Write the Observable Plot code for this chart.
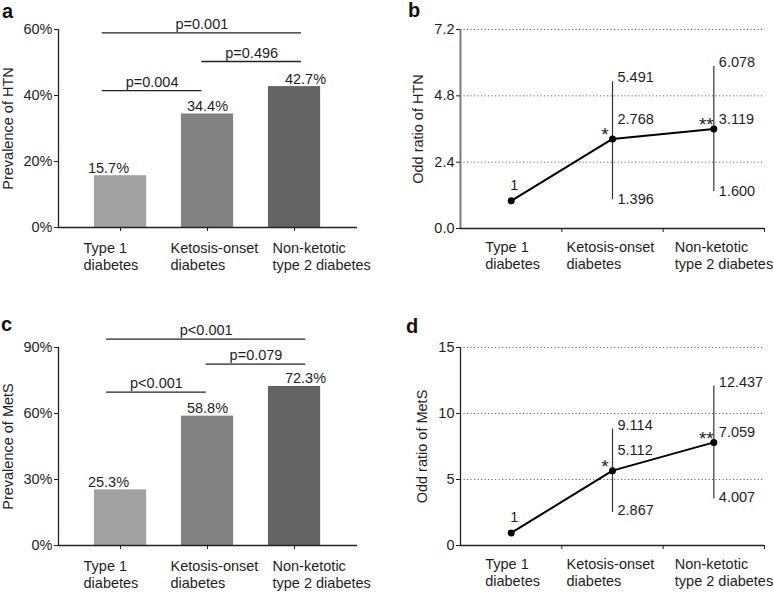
<!DOCTYPE html>
<html><head><meta charset="utf-8">
<script src="https://cdn.jsdelivr.net/npm/d3@7"></script>
<script src="https://cdn.jsdelivr.net/npm/@observablehq/plot@0.6"></script>
<style>
body{margin:0;background:#fff;}
#wrap{position:relative;width:774px;height:592px;font-family:"Liberation Sans",Arial,sans-serif;overflow:hidden;}
.panel{position:absolute;width:387px;height:296px;}
.letter{position:absolute;font-weight:bold;font-size:20px;line-height:20px;color:#111;}
</style></head><body>
<div id="wrap">
  <div class="panel" id="pa" style="left:0;top:0"></div>
  <div class="panel" id="pb" style="left:387px;top:0"></div>
  <div class="panel" id="pc" style="left:0;top:296px"></div>
  <div class="panel" id="pd" style="left:387px;top:296px"></div>
  <div class="letter" style="left:2px;top:1px">a</div>
  <div class="letter" style="left:408px;top:0px">b</div>
  <div class="letter" style="left:1px;top:314px">c</div>
  <div class="letter" style="left:406px;top:316px">d</div>
</div>
<script>
// ---------- data ----------
const categories = ["Type 1\ndiabetes", "Ketosis-onset\ndiabetes", "Non-ketotic\ntype 2 diabetes"];
const barColors = ["#a2a2a2", "#828282", "#646464"];

// a: prevalence of HTN (%)
const htnPrev = [15.7, 34.4, 42.7];
const htnPrevLabels = ["15.7%", "34.4%", "42.7%"];
const htnBracketFrom = [0, 1, 0];
const htnBracketTo = [1, 2, 2];
const htnBracketLevel = [41.5, 50.3, 59];
const htnBracketText = ["p=0.004", "p=0.496", "p=0.001"];

// c: prevalence of MetS (%)
const metsPrev = [25.3, 58.8, 72.3];
const metsPrevLabels = ["25.3%", "58.8%", "72.3%"];
const metsBracketFrom = [0, 1, 0];
const metsBracketTo = [1, 2, 2];
const metsBracketLevel = [69.7, 82.4, 93.8];
const metsBracketText = ["p<0.001", "p=0.079", "p<0.001"];

// b: odds ratio of HTN (as drawn) and printed labels
const htnOR = [1, 3.24, 3.6];
const htnLo = [null, 1.04, 1.34];
const htnHi = [null, 5.31, 5.86];
const htnORText = ["1", "2.768", "3.119"];
const htnLoText = ["", "1.396", "1.600"];
const htnHiText = ["", "5.491", "6.078"];
const htnTicks = [0, 2.4, 4.8, 7.2];

// d: odds ratio of MetS (as drawn) and printed labels
const metsOR = [0.95, 5.67, 7.81];
const metsLo = [null, 2.5, 3.53];
const metsHi = [null, 8.83, 12.08];
const metsORText = ["1", "5.112", "7.059"];
const metsLoText = ["", "2.867", "4.007"];
const metsHiText = ["", "9.114", "12.437"];
const metsTicks = [0, 5, 10, 15];

const sigText = ["", "*", "**"];

// ---------- drawing ----------
const W = 387, H = 296;
const FS = 14.5;
const baseStyle = {fontFamily: '"Liberation Sans", Arial, sans-serif', fontSize: FS + "px", color: "#1e1e1e", background: "transparent", overflow: "visible"};
const idx = [0, 1, 2];

function catLabels(nudges, dy) {
  return idx.map(i => Plot.text([i], {
    x: d => d, frameAnchor: "bottom", text: d => categories[d],
    textAnchor: "start", lineAnchor: "top", lineHeight: 1.15,
    dx: nudges[i], dy, fontSize: FS
  }));
}

function yTitle(label, dx) {
  return Plot.text([label], {frameAnchor: "left", textAnchor: "middle", lineAnchor: "middle", rotate: -90, dx, fontSize: FS});
}

function barPanel({values, valueLabels, from, to, level, ptext, yMax, yStep, yLabel, marginTop, marginBottom, bOff}) {
  const data = idx.map(i => ({i, v: values[i], t: valueLabels[i]}));
  const brackets = ptext.map((t, k) => ({from: from[k], to: to[k], level: level[k], t}));
  const bpos = j => bOff + 1.145 * j;
  const xmin = -0.713, xmax = 2.724;
  const pctNudge = [-12, 0, 11];
  return Plot.plot({
    width: W, height: H, marginLeft: 58, marginRight: 30, marginTop, marginBottom,
    style: baseStyle,
    x: {type: "linear", domain: [xmin, xmax], axis: null},
    y: {domain: [0, yMax], axis: null},
    color: {type: "identity"},
    marks: [
      Plot.rectY(data, {x1: d => d.i - 0.3, x2: d => d.i + 0.3, y: "v", fill: d => barColors[d.i]}),
      ...idx.map(i => Plot.text([data[i]], {x: "i", y: "v", text: "t", lineAnchor: "bottom", dy: -3, dx: pctNudge[i], fontSize: FS})),
      Plot.ruleY(brackets, {y: "level", x1: d => bpos(d.from), x2: d => bpos(d.to), stroke: "#222", strokeWidth: 1.3}),
      Plot.text(brackets, {x: d => (bpos(d.from) + bpos(d.to)) / 2, y: "level", text: "t", lineAnchor: "bottom", dy: -4, fontSize: FS}),
      Plot.ruleX([xmin], {stroke: "#222", strokeWidth: 1.3}),
      Plot.ruleY([0], {stroke: "#222", strokeWidth: 1.3}),
      Plot.axisY({ticks: d3.range(0, yMax + 1, yStep), tickFormat: d => d + "%", tickSize: 4, tickPadding: 2, label: null, fontSize: FS}),
      Plot.axisX({ticks: [0, 1, 2], tickFormat: () => "", tickSize: 4, label: null}),
      yTitle(yLabel, -50),
      ...catLabels([-37, -37, -22], 14)
    ]
  });
}

function orPanel({pts, lo, hi, ptText, loText, hiText, ticks, fmt, yLabel, marginTop, marginBottom, axisColor, axisWidth, labelDx, loDy}) {
  const data = idx.map(i => ({i, v: pts[i], lo: lo[i], hi: hi[i], pt: ptText[i], lt: loText[i], ht: hiText[i], s: sigText[i]}));
  const ci = data.filter(d => d.lo != null);
  const yMax = ticks[ticks.length - 1];
  const midDy = [-15.5, -20, -10];
  return Plot.plot({
    width: W, height: H, marginLeft: 73, marginRight: 10, marginTop, marginBottom,
    style: baseStyle,
    x: {type: "linear", domain: [-0.5, 2.5], axis: null},
    y: {domain: [0, yMax], axis: null},
    marks: [
      Plot.ruleY(ticks.filter(t => t > 0), {stroke: "#666", strokeWidth: 1, strokeDasharray: "1.2,2.3"}),
      Plot.ruleX([-0.5], {stroke: axisColor, strokeWidth: axisWidth}),
      Plot.ruleY([0], {stroke: "#222", strokeWidth: 1.3}),
      Plot.axisY({ticks, tickFormat: fmt, tickSize: 4, tickPadding: 2, label: null, fontSize: FS}),
      Plot.axisX({ticks: [0.5, 1.5, 2.5], tickFormat: () => "", tickSize: 4, label: null}),
      Plot.ruleX(ci, {x: "i", y1: "lo", y2: "hi", stroke: "#333", strokeWidth: 1.2}),
      Plot.line(data, {x: "i", y: "v", stroke: "#000", strokeWidth: 2}),
      Plot.dot(data, {x: "i", y: "v", r: 3.5, fill: "#000"}),
      Plot.text(ci, {x: "i", y: "hi", text: "ht", textAnchor: "start", dx: 5, dy: -4, fontSize: FS}),
      Plot.text(ci, {x: "i", y: "lo", text: "lt", textAnchor: "start", dx: 5, dy: loDy, fontSize: FS}),
      Plot.text(ci, {x: "i", y: "v", text: "s", dx: -7.5, dy: -4, fontSize: 19}),
      Plot.text([data[0]], {x: "i", y: "v", text: "pt", dx: 3, dy: midDy[0], fontSize: FS}),
      ...[1, 2].map(i => Plot.text([data[i]], {x: "i", y: "v", text: "pt", textAnchor: "start", dx: 5, dy: midDy[i], fontSize: FS})),
      yTitle(yLabel, labelDx),
      ...catLabels([-26, -46, -39], 11.5)
    ]
  });
}

document.getElementById("pa").append(barPanel({
  values: htnPrev, valueLabels: htnPrevLabels, from: htnBracketFrom, to: htnBracketTo,
  level: htnBracketLevel, ptext: htnBracketText, yMax: 60, yStep: 20,
  yLabel: "Prevalence of HTN", marginTop: 29, marginBottom: 69, bOff: -0.21
}));
document.getElementById("pc").append(barPanel({
  values: metsPrev, valueLabels: metsPrevLabels, from: metsBracketFrom, to: metsBracketTo,
  level: metsBracketLevel, ptext: metsBracketText, yMax: 90, yStep: 30,
  yLabel: "Prevalence of MetS", marginTop: 51, marginBottom: 47, bOff: -0.16
}));
document.getElementById("pb").append(orPanel({
  pts: htnOR, lo: htnLo, hi: htnHi, ptText: htnORText, loText: htnLoText, hiText: htnHiText,
  ticks: htnTicks, fmt: d3.format(".1f"), yLabel: "Odd ratio of HTN",
  marginTop: 29, marginBottom: 68, axisColor: "#7a7a7a", axisWidth: 2, labelDx: -42.5, loDy: 0
}));
document.getElementById("pd").append(orPanel({
  pts: metsOR, lo: metsLo, hi: metsHi, ptText: metsORText, loText: metsLoText, hiText: metsHiText,
  ticks: metsTicks, fmt: d => String(d), yLabel: "Odd ratio of MetS",
  marginTop: 51, marginBottom: 47, axisColor: "#222", axisWidth: 1.3, labelDx: -38.5, loDy: -2
}));
</script>
</body></html>
